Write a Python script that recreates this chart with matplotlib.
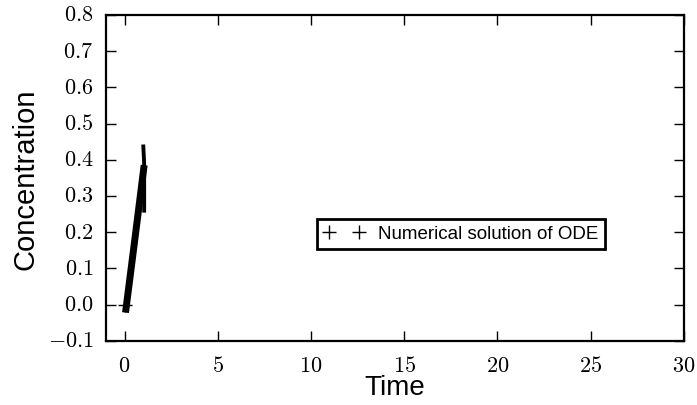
import matplotlib
matplotlib.use("Agg")
import matplotlib.pyplot as plt
from matplotlib.ticker import FuncFormatter

# numerical ODE solution
time_body = [0.05, 0.55, 1.05]
conc_body = [-0.022, 0.18, 0.385]
time_spike = [1.0, 1.05, 1.05]
conc_spike = [0.442, 0.39, 0.254]
time_marker = [0.0]
conc_marker = [0.0]

plt.style.use("classic")
plt.rcParams["mathtext.fontset"] = "cm"
plt.rcParams["font.family"] = ["Liberation Sans", "DejaVu Sans"]

fig = plt.figure(figsize=(6.97, 4.06), dpi=100, facecolor="white")
ax = fig.add_axes([0.152, 0.158, 0.829, 0.803])

ax.plot(time_body, conc_body, color="black", lw=5, solid_capstyle="butt")
ax.plot(time_spike, conc_spike, color="black", lw=2.8, solid_capstyle="butt")
ax.plot(time_marker, conc_marker, "k+", ms=10, mew=1, label="Numerical solution of ODE")

ax.set_xlim(-1, 30)
ax.set_ylim(-0.1, 0.8)
ax.set_xticks([0, 5, 10, 15, 20, 25, 30])
ax.set_yticks([-0.1, 0.0, 0.1, 0.2, 0.3, 0.4, 0.5, 0.6, 0.7, 0.8])
ax.xaxis.set_major_formatter(FuncFormatter(lambda v, p: r"$%d$" % v))
ax.yaxis.set_major_formatter(FuncFormatter(lambda v, p: r"$%.1f$" % v))
ax.tick_params(labelsize=16, length=7, width=1, direction="in", pad=9)
ax.tick_params(axis="x", pad=10)
for s in ax.spines.values():
    s.set_linewidth(1.6)

ax.set_xlabel("Time", fontsize=20, labelpad=-1)
ax.set_ylabel("Concentration", fontsize=21, labelpad=6)

leg = ax.legend(loc="center", bbox_to_anchor=(0.614, 0.328), numpoints=2,
                fontsize=13.5, frameon=True, fancybox=False, handlelength=2.2,
                handletextpad=0.7, borderpad=0.35, borderaxespad=0)
leg.get_frame().set_linewidth(2)
leg.get_frame().set_edgecolor("black")

fig.savefig("out.png", dpi=100, facecolor="white")
